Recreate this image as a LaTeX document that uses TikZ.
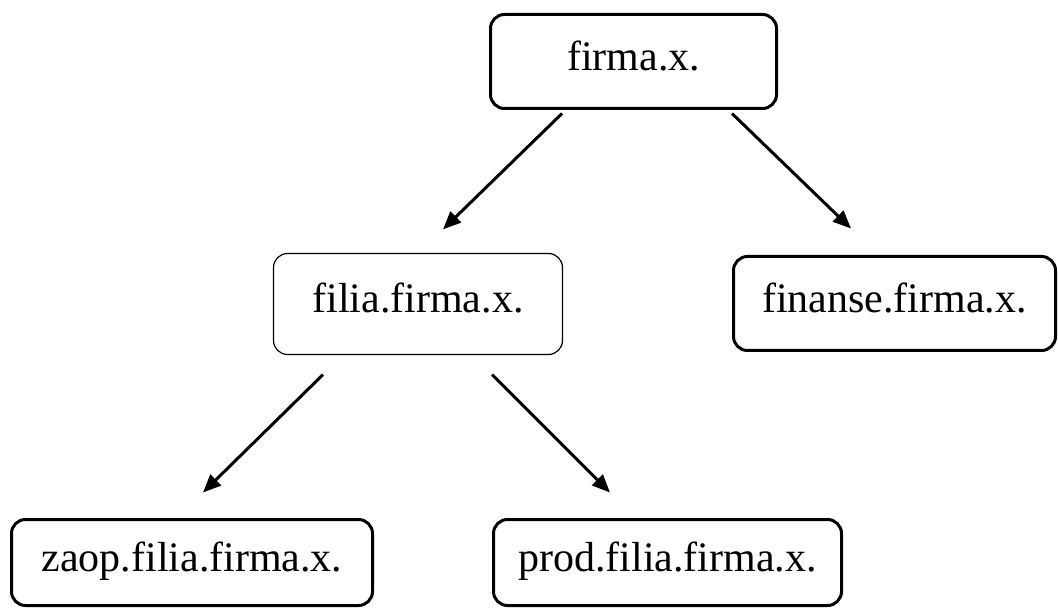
\documentclass[tikz,border=0pt]{standalone}
\usepackage{fontspec}
\setmainfont{Liberation Serif}
\usetikzlibrary{arrows.meta}

\begin{document}
\begin{tikzpicture}[x=1pt, y=-1pt,
    box/.style={draw, line width=3pt, rounded corners=14pt, inner sep=0pt,
      font=\fontsize{42}{50}\selectfont, text height=29pt, text depth=11pt},
    thinbox/.style={box, line width=1.2pt},
    arr/.style={line width=3pt, -{Triangle[length=18pt,width=15pt]}}]
    \useasboundingbox (0,0) rectangle (1058,609);

    \node[box, minimum width=286pt, minimum height=94pt] (firma) at (633.5,61.5) {firma.x.};
    \node[thinbox, minimum width=289pt, minimum height=101pt] (filia) at (418,304) {filia.firma.x.};
    \node[box, minimum width=322pt, minimum height=94pt] (finanse) at (894.5,303.5) {finanse.firma.x.};
    \node[box, minimum width=361pt, minimum height=86pt] (zaop) at (192,562.5) {zaop.filia.firma.x.};
    \node[box, minimum width=348pt, minimum height=86pt] (prod) at (667.5,562.5) {prod.filia.firma.x.};

    \draw[arr] ([xshift=-71.5pt, yshift=-3.5pt]firma.south) -- ([xshift=25pt, yshift=23.5pt]filia.north);
    \draw[arr] ([xshift=98.5pt, yshift=-3.5pt]firma.south) -- ([xshift=-43.5pt, yshift=26.5pt]finanse.north);
    \draw[arr] ([xshift=-95pt, yshift=-19.5pt]filia.south) -- ([xshift=11pt, yshift=25.5pt]zaop.north);
    \draw[arr] ([xshift=74pt, yshift=-19.5pt]filia.south) -- ([xshift=-57.5pt, yshift=25.5pt]prod.north);
\end{tikzpicture}
\end{document}
